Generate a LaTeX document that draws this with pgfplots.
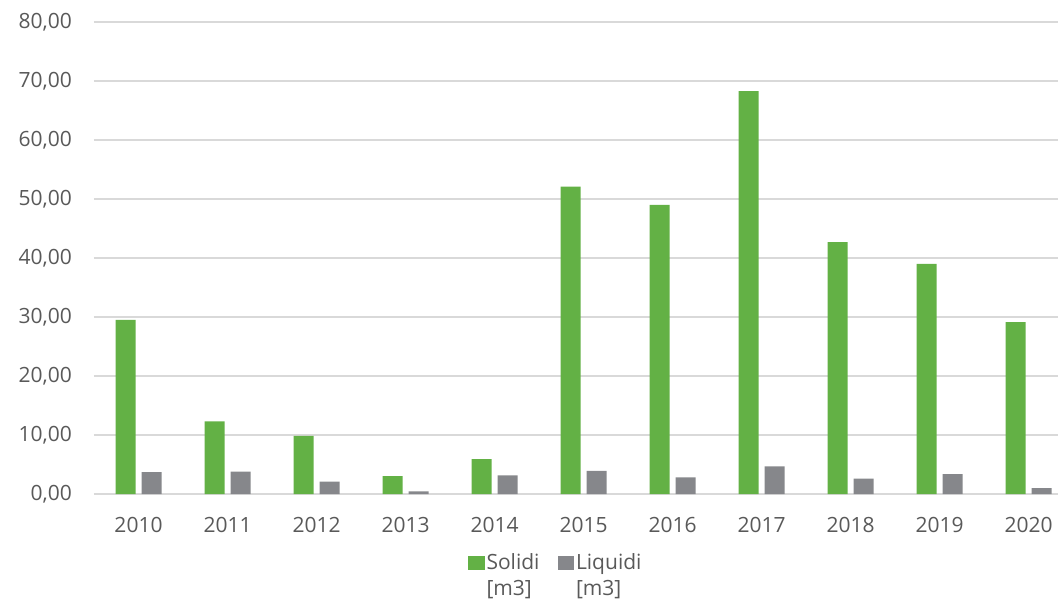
\documentclass[border=0pt]{standalone}
\usepackage{fontspec}
\setmainfont{Open Sans}
\usepackage{pgfplots}
\pgfplotsset{compat=1.18}
\definecolor{txt}{RGB}{89,89,89}
\definecolor{gridc}{RGB}{217,217,217}
\definecolor{solidi}{RGB}{99,177,69}
\definecolor{liquidi}{RGB}{134,135,139}
\begin{document}
\fontsize{21}{27}\selectfont
\begin{tikzpicture}[font=\fontsize{21}{27}\selectfont]
\begin{axis}[
  scale only axis,
  width=964pt, height=472pt,
  xmin=-0.5, xmax=10.33,
  ymin=0, ymax=80,
  ytick={0,10,...,80},
  xtick={0,...,10},
  xticklabels={2010,2011,2012,2013,2014,2015,2016,2017,2018,2019,2020},
  axis x line*=bottom, axis y line*=left,
  axis line style={draw=none},
  major tick length=0pt,
  ymajorgrids,
  grid style={gridc, line width=1.5pt},
  tick label style={color=txt, font=\fontsize{21}{27}\selectfont},
  yticklabel style={inner sep=0pt, xshift=-22pt},
  xticklabel style={inner sep=0pt, yshift=-23pt},
  /pgf/number format/.cd, fixed, fixed zerofill, precision=2, use comma, assume math mode=true,
  /pgfplots/.cd,
  ybar, bar width=20pt,
  legend columns=2,
  legend style={at={(0.479,-0.117)}, anchor=north, draw=none, fill=none, inner sep=0pt,
    text=txt, font=\fontsize{21}{26}\selectfont,
    cells={anchor=base west},
    /tikz/every even column/.append style={column sep=16pt}},
]
\coordinate (O) at (rel axis cs:0,0);
\addplot[fill=solidi, draw=none, bar shift=-13pt,
  legend image code/.code={\path (0pt,0pt) rectangle (16.5pt,13.5pt);\fill[solidi] (0pt,0pt) rectangle (13.5pt,13.5pt);}]
  coordinates {(0,29.5) (1,12.3) (2,9.85) (3,3.05) (4,5.9) (5,52.1) (6,49.0) (7,68.3) (8,42.7) (9,39.0) (10,29.15)};
\addlegendentry{\begin{tabular}[t]{@{}l@{}}Solidi\\{}[m3]\end{tabular}}
\addplot[fill=liquidi, draw=none, bar shift=13pt,
  legend image code/.code={\path (0pt,0pt) rectangle (16.5pt,13.5pt);\fill[liquidi] (0pt,0pt) rectangle (13.5pt,13.5pt);}]
  coordinates {(0,3.7) (1,3.8) (2,2.1) (3,0.45) (4,3.15) (5,3.9) (6,2.8) (7,4.7) (8,2.6) (9,3.35) (10,1.0)};
\addlegendentry{\begin{tabular}[t]{@{}l@{}}Liquidi\\{}[m3]\end{tabular}}
\end{axis}
\pgfresetboundingbox
\path (O) ++(-94pt,-109pt) rectangle ++(1058pt,603pt);
\end{tikzpicture}
\end{document}
